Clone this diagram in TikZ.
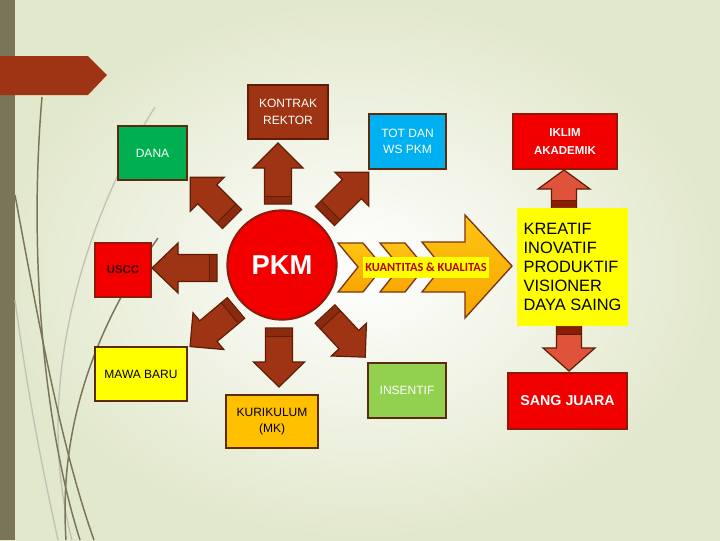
\documentclass[tikz,border=0pt]{standalone}
\usepackage{fontspec}
\setmainfont{Liberation Sans}
\newfontfamily\calfont{Carlito}
\definecolor{bgout}{HTML}{E2E8CC}
\definecolor{strip}{HTML}{7A7458}
\definecolor{rust}{HTML}{9E3413}
\definecolor{rustband}{HTML}{8A2A0E}
\definecolor{rustdark}{HTML}{5E1E06}
\definecolor{boxline}{HTML}{5C2A0C}
\definecolor{danag}{HTML}{00B050}
\definecolor{totb}{HTML}{00B0F0}
\definecolor{insg}{HTML}{92D050}
\definecolor{kurio}{HTML}{FFC000}
\definecolor{ylw}{HTML}{FFFF00}
\definecolor{redf}{HTML}{F20000}
\definecolor{redline}{HTML}{8E1A0A}
\definecolor{salmon}{HTML}{DE5339}
\definecolor{darkred}{HTML}{8A1E04}
\definecolor{orgtop}{HTML}{FFC414}
\definecolor{orgbot}{HTML}{F7A600}
\definecolor{chevline}{HTML}{7A3512}
\definecolor{kuatxt}{HTML}{C00000}
\definecolor{usctxt}{HTML}{3A0808}
% #1 tail x, #2 tail y, #3 angle, #4 length, #5 shaft w, #6 head w, #7 head len, #8 fill, #9 band colour
\newcommand\blockarr[9]{%
  \begin{scope}[shift={(#1,#2)}, rotate=#3]
    \filldraw[fill=#8, draw=rustdark, line width=0.9pt, line join=miter]
      (0,-#5/2) -- (#4-#7,-#5/2) -- (#4-#7,-#6/2) -- (#4,0) -- (#4-#7,#6/2)
      -- (#4-#7,#5/2) -- (0,#5/2) -- cycle;
    \fill[#9] (0.6,-#5/2+0.6) rectangle (8,#5/2-0.6);
    \draw[rustdark, line width=0.7pt] (8,-#5/2) -- (8,#5/2);
  \end{scope}}
% #1 style, #2 name, #3 x1, #4 y1, #5 x2, #6 y2, #7 text
\newcommand\pbox[7]{%
  \node[#1, minimum width={(#5-#3)*0.75pt}, minimum height={(#6-#4)*0.75pt}]
    (#2) at ({(#3+#5)/2},{(#4+#6)/2}) {#7};}
\begin{document}
\begin{tikzpicture}[x=0.75pt,y=-0.75pt,
  box/.style={draw=boxline, line width=1.2pt, inner sep=0pt, align=center,
    font=\fontsize{9}{12.5}\selectfont},
  redbox/.style={draw=redline, line width=1.2pt, fill=redf, inner sep=0pt, align=center,
    text=white, font=\fontsize{8.6}{13}\selectfont\bfseries},
  chev/.style={draw=chevline, line width=1pt, top color=orgtop, bottom color=orgbot, line join=miter},
  deco/.style={strip, line width=1.1pt},
  decol/.style={strip!45, line width=1pt}]
\useasboundingbox (0,0) rectangle (720,540);
% background
\shade[inner color=white, outer color=bgout] (0,0) rectangle (720,540);
\fill[strip] (0,0) rectangle (15,540);
% decorative curves
\draw[decol] (155,107) .. controls (90,210) and (30,380) .. (72,540);
\draw[decol] (15,300) .. controls (30,410) and (45,480) .. (58,540);
\draw[deco] (42,97) .. controls (28,260) and (45,430) .. (80,540);
\draw[deco] (15,195) .. controls (40,330) and (62,450) .. (94,540);
\draw[deco] (158,238) .. controls (100,320) and (58,420) .. (66,540);
% banner
\fill[rust] (0,56) -- (88,56) -- (107,75) -- (88,95) -- (0,95) -- cycle;
% block arrows round PKM
\blockarr{278}{204}{90}{61}{27}{50}{25}{rust}{rustband}
\blockarr{232}{219}{135}{59}{27}{48}{24}{rust}{rustband}
\blockarr{217}{268}{180}{65}{27}{50}{26}{rust}{rustband}
\blockarr{236}{308}{220}{60}{27}{48}{24}{rust}{rustband}
\blockarr{279}{328}{270}{59}{27}{51}{25}{rust}{rustband}
\blockarr{325}{314}{313}{59}{27}{48}{24}{rust}{rustband}
\blockarr{325}{216}{45}{62}{27}{48}{24}{rust}{rustband}
% right column arrows
\blockarr{564}{208}{90}{38}{25}{52}{19}{salmon}{darkred}
\blockarr{569}{326}{270}{45}{25}{52}{23}{salmon}{darkred}
% chevrons
\draw[chev] (338,243) -- (363,243) -- (383,267) -- (363,292) -- (338,292) -- (358,267) -- cycle;
\draw[chev] (380,243) -- (405,243) -- (425,267) -- (405,292) -- (380,292) -- (400,267) -- cycle;
\draw[chev] (422,242) -- (465,242) -- (465,215) -- (512,266) -- (465,318) -- (465,292)
  -- (422,292) -- (442,267) -- cycle;
\pbox{fill=ylw, inner sep=0pt, text=kuatxt, font=\calfont\bfseries\fontsize{9.3}{10}\selectfont}
  {kua}{363}{257}{489}{278}{KUANTITAS \& KUALITAS}
% centre
\node[circle, draw=redline, line width=1.5pt, fill=redf, minimum size=82pt, inner sep=0pt,
  text=white, font=\fontsize{20.5}{24}\selectfont\bfseries] (pkm) at (282,265) {PKM};
% boxes
\pbox{box, fill=rust, draw=rustdark, text=white}{kontrak}{248}{85}{328}{139}{KONTRAK\\REKTOR}
\pbox{box, fill=danag, text=white}{dana}{118}{126}{187}{180}{DANA}
\pbox{box, fill=totb, text=white, font=\fontsize{9}{12}\selectfont}{tot}{369}{114}{446}{169}{TOT DAN\\WS PKM}
\pbox{box, fill=redf, draw=redline, text=usctxt, font=\fontsize{8.5}{10}\selectfont\bfseries}
  {uscc}{95}{243}{151}{297}{USCC}
\pbox{box, fill=ylw, text=black}{mawa}{95}{347}{187}{401}{MAWA BARU}
\pbox{box, fill=kurio, text=black}{kuri}{226}{395}{318}{448}{KURIKULUM\\(MK)}
\pbox{box, fill=insg, text=white}{ins}{368}{363}{446}{418}{INSENTIF}
\pbox{redbox}{iklim}{513}{114}{617}{169}{IKLIM\\AKADEMIK}
\pbox{fill=ylw, inner sep=0pt, align=left, font=\fontsize{12.3}{14.25}\selectfont}
  {kreatif}{517}{208}{628}{326}{KREATIF\\INOVATIF\\PRODUKTIF\\VISIONER\\DAYA SAING}
\pbox{redbox, font=\fontsize{10.7}{13}\selectfont\bfseries}{juara}{508}{373}{627}{429}{SANG JUARA}
\end{tikzpicture}
\end{document}
